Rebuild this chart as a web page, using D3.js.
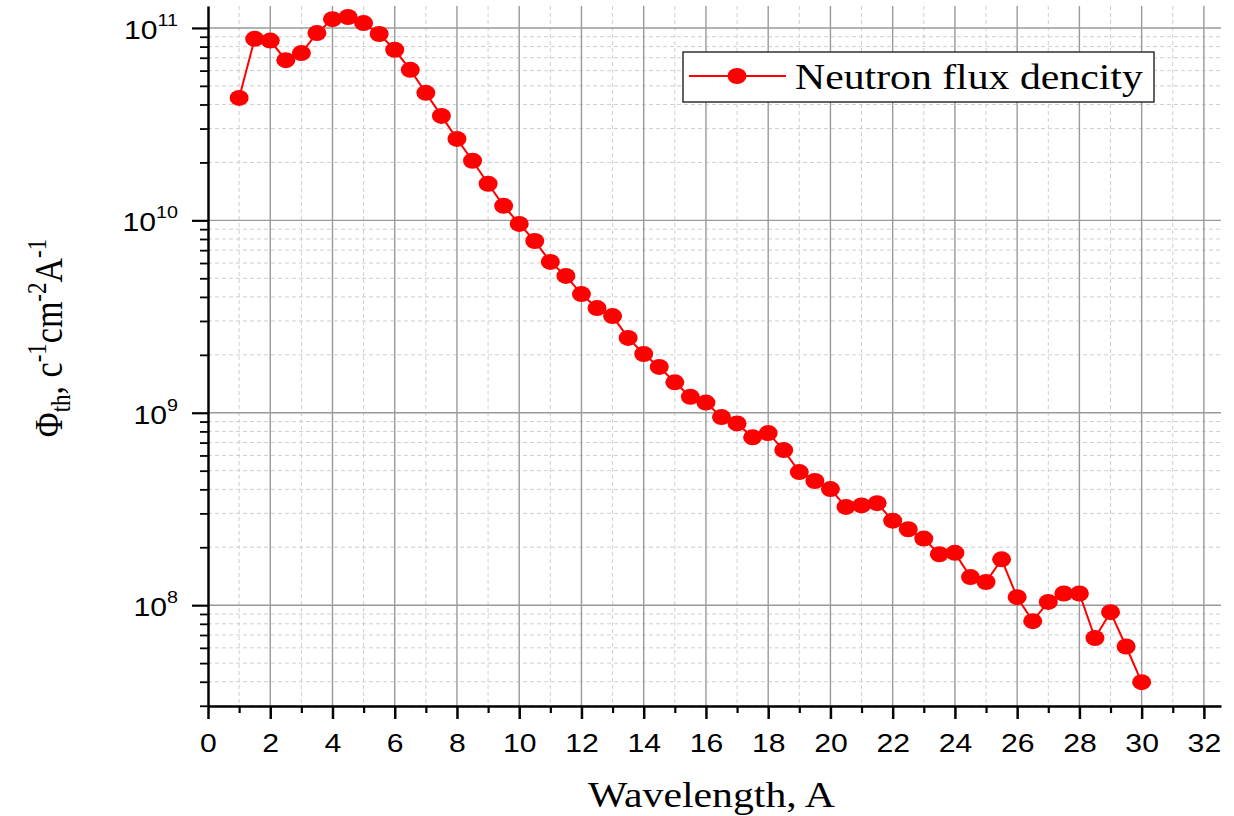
<!DOCTYPE html>
<html>
<head>
<meta charset="utf-8">
<script src="https://cdn.jsdelivr.net/npm/d3@7"></script>
<style>
  body { margin: 0; background: #fff; }
</style>
</head>
<body>
<div id="chart"></div>
<script>
// wavelength, A
const wavelength = [1, 1.5, 2, 2.5, 3, 3.5, 4, 4.5, 5, 5.5, 6, 6.5, 7, 7.5, 8, 8.5, 9, 9.5, 10, 10.5,
  11, 11.5, 12, 12.5, 13, 13.5, 14, 14.5, 15, 15.5, 16, 16.5, 17, 17.5, 18, 18.5, 19, 19.5, 20, 20.5,
  21, 21.5, 22, 22.5, 23, 23.5, 24, 24.5, 25, 25.5, 26, 26.5, 27, 27.5, 28, 28.5, 29, 29.5, 30];

// neutron flux density
const flux = [4.33e10, 8.78e10, 8.6e10, 6.8e10, 7.4e10, 9.4e10, 1.11e11, 1.14e11, 1.06e11, 9.3e10,
  7.7e10, 6.06e10, 4.6e10, 3.49e10, 2.65e10, 2.04e10, 1.55e10, 1.19e10, 9.58e9, 7.81e9,
  6.08e9, 5.14e9, 4.14e9, 3.5e9, 3.18e9, 2.45e9, 2.02e9, 1.73e9, 1.44e9, 1.21e9,
  1.13e9, 9.5e8, 8.8e8, 7.45e8, 7.84e8, 6.4e8, 4.92e8, 4.42e8, 4.01e8, 3.24e8,
  3.3e8, 3.39e8, 2.75e8, 2.48e8, 2.22e8, 1.84e8, 1.87e8, 1.40e8, 1.32e8, 1.73e8,
  1.10e8, 8.26e7, 1.04e8, 1.15e8, 1.15e8, 6.75e7, 9.2e7, 6.1e7, 3.98e7];

const xTicks = [0, 2, 4, 6, 8, 10, 12, 14, 16, 18, 20, 22, 24, 26, 28, 30, 32];
const yExponents = [8, 9, 10, 11];
const legendLabel = "Neutron flux dencity";
const xTitle = "Wavelength, A";

const W = 1234, H = 816;
const mLeft = 208, mRight = 1221, mTop = 6, mBottom = 706;
const stretch = 1.16;
const sans = "'Liberation Sans', Arial, sans-serif";
const serif = "'Liberation Serif', 'Times New Roman', serif";

const svg = d3.select("#chart").append("svg")
  .attr("width", W).attr("height", H);

const x = d3.scaleLinear().domain([0, 32.55]).range([mLeft, mRight]);
const y = d3.scaleLog().domain([Math.pow(10, 7.476), Math.pow(10, 11.114)]).range([mBottom, mTop]);

// minor/major values
const xMinor = d3.range(1, 33, 2);
const yMajor = yExponents.map(e => Math.pow(10, e));
const yMinor = [];
[7, 8, 9, 10, 11].forEach(e => {
  for (let k = 2; k <= 9; k++) {
    const v = k * Math.pow(10, e);
    if (v >= y.domain()[0] && v <= y.domain()[1]) yMinor.push(v);
  }
});

// grid
const grid = svg.append("g");
grid.selectAll(".xminor").data(xMinor).enter().append("line")
  .attr("x1", d => x(d)).attr("x2", d => x(d))
  .attr("y1", mTop).attr("y2", mBottom)
  .attr("stroke", "#cfcfcf").attr("stroke-width", 1).attr("stroke-dasharray", "4,3");
grid.selectAll(".yminor").data(yMinor).enter().append("line")
  .attr("x1", mLeft).attr("x2", mRight)
  .attr("y1", d => y(d)).attr("y2", d => y(d))
  .attr("stroke", "#cfcfcf").attr("stroke-width", 1).attr("stroke-dasharray", "4,3");
grid.selectAll(".xmajor").data(xTicks.filter(d => d > 0)).enter().append("line")
  .attr("x1", d => x(d)).attr("x2", d => x(d))
  .attr("y1", mTop).attr("y2", mBottom)
  .attr("stroke", "#9a9a9a").attr("stroke-width", 1.4);
grid.selectAll(".ymajor").data(yMajor).enter().append("line")
  .attr("x1", mLeft).attr("x2", mRight)
  .attr("y1", d => y(d)).attr("y2", d => y(d))
  .attr("stroke", "#9a9a9a").attr("stroke-width", 1.4);

// axes
const xAxis = svg.append("g").attr("transform", `translate(0,${mBottom})`)
  .call(d3.axisBottom(x).tickValues(xTicks).tickSize(13).tickSizeOuter(0));
svg.append("g").attr("transform", `translate(0,${mBottom})`)
  .call(d3.axisBottom(x).tickValues(xMinor).tickSize(7).tickFormat("").tickSizeOuter(0))
  .call(g => g.select(".domain").remove())
  .selectAll(".tick line").attr("stroke-width", 2.2);
xAxis.select(".domain").attr("stroke-width", 2.5);
xAxis.selectAll(".tick line").attr("stroke-width", 2.5);
xAxis.selectAll(".tick text")
  .attr("y", 0).attr("dy", null)
  .attr("transform", `translate(0,46) scale(${stretch},1)`)
  .style("font-family", sans).style("font-size", "26px").attr("fill", "#000");

const yAxis = svg.append("g").attr("transform", `translate(${mLeft},0)`)
  .call(d3.axisLeft(y).tickValues(yMajor).tickSize(16).tickFormat("").tickSizeOuter(0));
svg.append("g").attr("transform", `translate(${mLeft},0)`)
  .call(d3.axisLeft(y).tickValues(yMinor).tickSize(8).tickFormat("").tickSizeOuter(0))
  .call(g => g.select(".domain").remove())
  .selectAll(".tick line").attr("stroke-width", 1.8);
yAxis.select(".domain").attr("stroke-width", 2.5);
yAxis.selectAll(".tick line").attr("stroke-width", 2.2);

// y tick labels 10^n
yExponents.forEach(e => {
  const t = svg.append("text")
    .attr("transform", `translate(${mLeft - 30},${y(Math.pow(10, e)) + 11}) scale(${stretch},1)`)
    .attr("text-anchor", "end")
    .style("font-family", sans).style("font-size", "26px");
  t.append("tspan").text("10");
  t.append("tspan").attr("dy", -13).style("font-size", "17px").text(e);
});

// data line + markers
const pts = wavelength.map((w, i) => ({ w, v: flux[i] }));
svg.append("path")
  .datum(pts)
  .attr("fill", "none").attr("stroke", "#ff0000").attr("stroke-width", 2)
  .attr("d", d3.line().x(d => x(d.w)).y(d => y(d.v)));
svg.selectAll(".pt").data(pts).enter().append("ellipse")
  .attr("cx", d => x(d.w)).attr("cy", d => y(d.v))
  .attr("rx", 9.5).attr("ry", 8)
  .attr("fill", "#ff0000");

// legend
const lg = svg.append("g");
lg.append("rect").attr("x", 683).attr("y", 52).attr("width", 471).attr("height", 50)
  .attr("fill", "#fff").attr("stroke", "#222").attr("stroke-width", 1.4);
lg.append("line").attr("x1", 689).attr("x2", 786).attr("y1", 76).attr("y2", 76)
  .attr("stroke", "#ff0000").attr("stroke-width", 2);
lg.append("ellipse").attr("cx", 737).attr("cy", 76).attr("rx", 9.5).attr("ry", 8).attr("fill", "#ff0000");
lg.append("text")
  .attr("transform", `translate(795,89) scale(${stretch},1)`)
  .style("font-family", serif).style("font-size", "36px")
  .text(legendLabel);

// x title
svg.append("text")
  .attr("transform", `translate(${(585 + 838) / 2},807) scale(${stretch},1)`)
  .attr("text-anchor", "middle")
  .style("font-family", serif).style("font-size", "36px")
  .text(xTitle);

// y title
const yt = svg.append("text")
  .attr("transform", `translate(62,338) rotate(-90) scale(1,${stretch})`)
  .attr("text-anchor", "middle")
  .style("font-family", serif).style("font-size", "34px");
yt.append("tspan").text("Φ");
yt.append("tspan").attr("dy", 7).style("font-size", "23px").text("th");
yt.append("tspan").attr("dy", -7).text(", c");
yt.append("tspan").attr("dy", -14).style("font-size", "23px").text("-1");
yt.append("tspan").attr("dy", 14).text("cm");
yt.append("tspan").attr("dy", -14).style("font-size", "23px").text("-2");
yt.append("tspan").attr("dy", 14).text("A");
yt.append("tspan").attr("dy", -14).style("font-size", "23px").text("-1");
</script>
</body>
</html>
